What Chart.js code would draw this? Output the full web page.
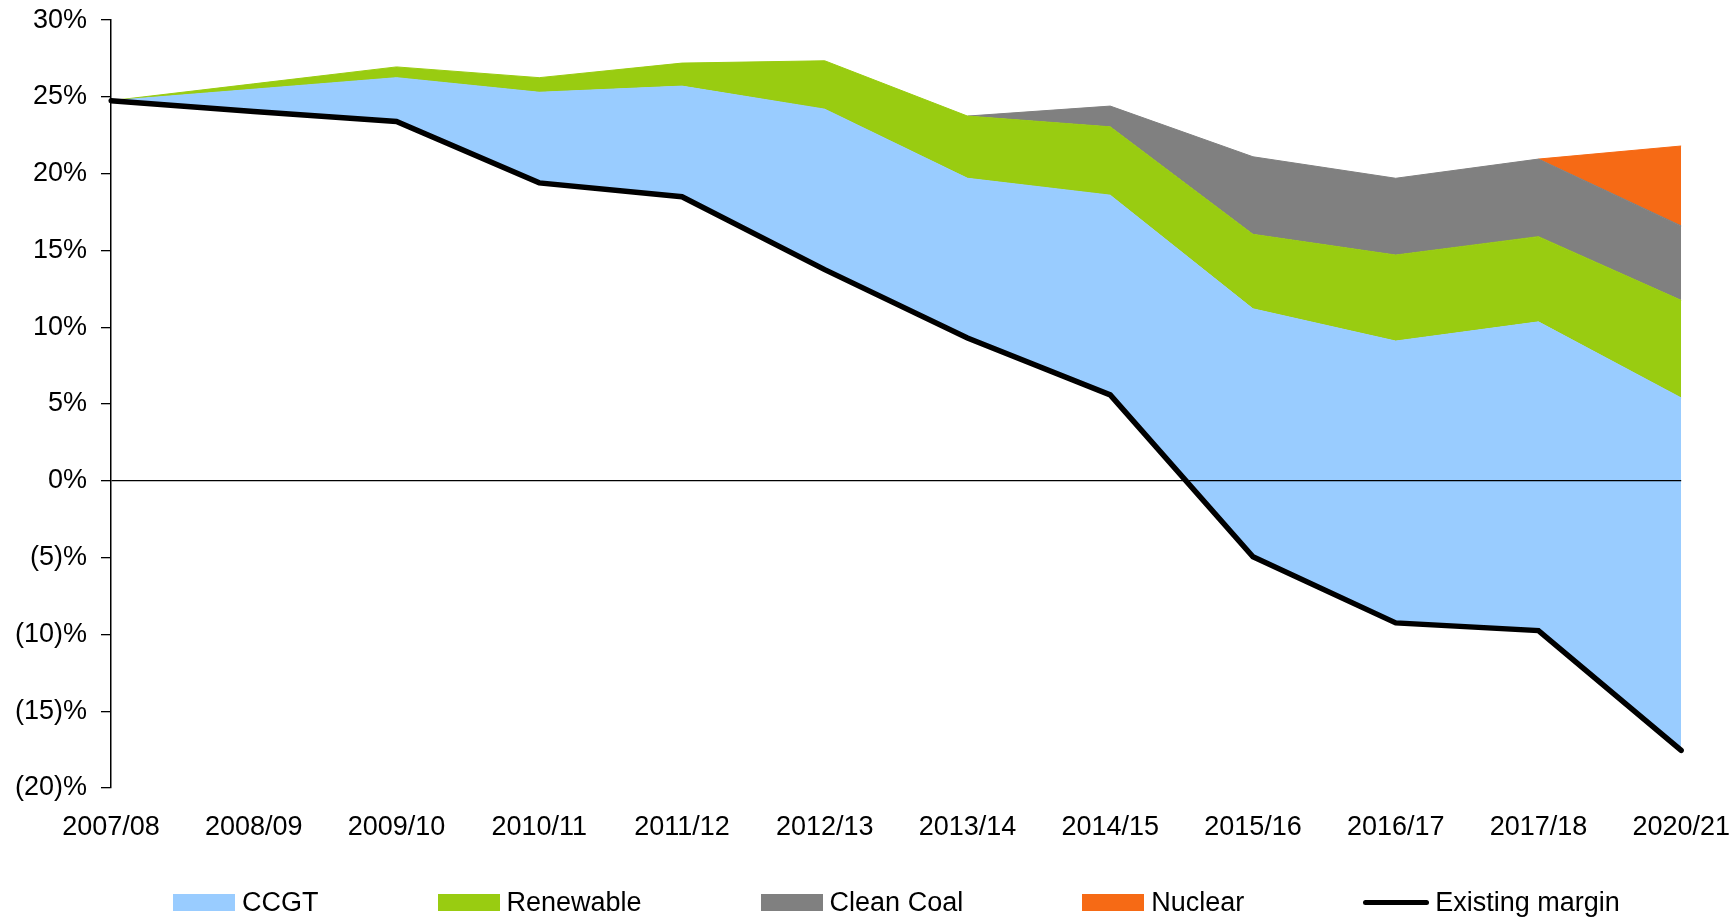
<!DOCTYPE html>
<html>
<head>
<meta charset="utf-8">
<script src="https://cdn.jsdelivr.net/npm/chart.js@4.4.0/dist/chart.umd.min.js"></script>
<style>
  html, body { margin: 0; padding: 0; background: #fff; }
  #wrap { position: relative; width: 1733px; height: 918px; }
  #legend {
    position: absolute; left: 173px; top: 887px; height: 30px;
    display: flex; align-items: center; gap: 119px;
    font-family: "Liberation Sans", Arial, sans-serif; font-size: 27px; line-height: 30px; color: #000;
  }
  .item { display: flex; align-items: center; white-space: nowrap; }
  .swatch { width: 62px; height: 17px; margin-right: 7px; }
  .line { width: 66px; height: 5px; border-radius: 3px; background: #000; margin-right: 6px; }
</style>
</head>
<body>
<div id="wrap">
  <canvas id="chart" width="1733" height="918"></canvas>
  <div id="legend"></div>
</div>
<script>
const years = ['2007/08', '2008/09', '2009/10', '2010/11', '2011/12', '2012/13',
               '2013/14', '2014/15', '2015/16', '2016/17', '2017/18', '2020/21'];

// margin with existing plant only (%)
const existingMargin = [24.75, 24.05, 23.4, 19.4, 18.5, 13.75, 9.3, 5.6, -4.95, -9.25, -9.75, -17.55];
// extra margin added by each kind of new build (% points, stacked on top)
const ccgt      = [0, 1.45, 2.85, 5.9, 7.2, 10.45, 10.4, 13.0, 16.15, 18.35, 20.1, 22.95];
const renewable = [0, 0.35, 0.7, 0.95, 1.5, 3.15, 4.05, 4.45, 4.85, 5.6, 5.55, 6.35];
const cleanCoal = [null, null, null, null, null, null, 0, 1.35, 5.05, 5.0, 5.05, 4.85];
const nuclear   = [null, null, null, null, null, null, null, null, null, null, 0, 5.2];

const yTicks = { min: -20, max: 30, step: 5 };

const FONT = '"Liberation Sans", Arial, sans-serif';

function area(label, data, color) {
  return {
    label: label, data: data, fill: '-1',
    backgroundColor: color, borderColor: color, borderWidth: 1,
    pointRadius: 0, tension: 0
  };
}

const ctx = document.getElementById('chart').getContext('2d');
const chart = new Chart(ctx, {
  type: 'line',
  data: {
    labels: years,
    datasets: [
      { label: 'Existing margin', data: existingMargin, fill: false,
        borderColor: '#000', backgroundColor: '#000', borderWidth: 5.5,
        borderCapStyle: 'round', pointRadius: 0, tension: 0 },
      area('CCGT', ccgt, '#99CCFF'),
      area('Renewable', renewable, '#99CC11'),
      area('Clean Coal', cleanCoal, '#808080'),
      area('Nuclear', nuclear, '#F66A15')
    ]
  },
  options: {
    responsive: false,
    animation: false,
    devicePixelRatio: 1,
    layout: { padding: 0 },
    plugins: { legend: { display: false }, tooltip: { enabled: false } },
    scales: {
      x: {
        // ticks hidden but their length pushes the labels down
        grid: { display: false, drawTicks: true, tickLength: 20 },
        border: { display: false },
        ticks: { color: '#000', font: { family: FONT, size: 27 }, padding: 3, maxRotation: 0, autoSkip: false },
        afterFit: s => { s.height = 130; }
      },
      y: {
        stacked: 'single',
        min: yTicks.min, max: yTicks.max,
        grid: {
          z: 1,
          color: c => c.tick && c.tick.value === 0 ? '#000' : 'rgba(0,0,0,0)',
          tickColor: '#000', tickLength: 10, lineWidth: 1.3
        },
        border: { display: true, color: '#000', width: 1.5, z: 1 },
        ticks: {
          stepSize: yTicks.step, color: '#000', font: { family: FONT, size: 27, lineHeight: 0.45 }, padding: 14,
          callback: v => v < 0 ? '(' + (-v) + ')%' : v + '%'
        },
        afterFit: s => { s.width = 111; }
      }
    }
  }
});

// legend in the order of the original: areas first, line last
const legend = document.getElementById('legend');
const order = [1, 2, 3, 4, 0];
order.forEach(i => {
  const ds = chart.data.datasets[i];
  const item = document.createElement('div');
  item.className = 'item';
  const mark = document.createElement('span');
  if (ds.fill === false) {
    mark.className = 'line';
  } else {
    mark.className = 'swatch';
    mark.style.background = ds.backgroundColor;
  }
  item.appendChild(mark);
  item.appendChild(document.createTextNode(ds.label));
  legend.appendChild(item);
});
</script>
</body>
</html>
